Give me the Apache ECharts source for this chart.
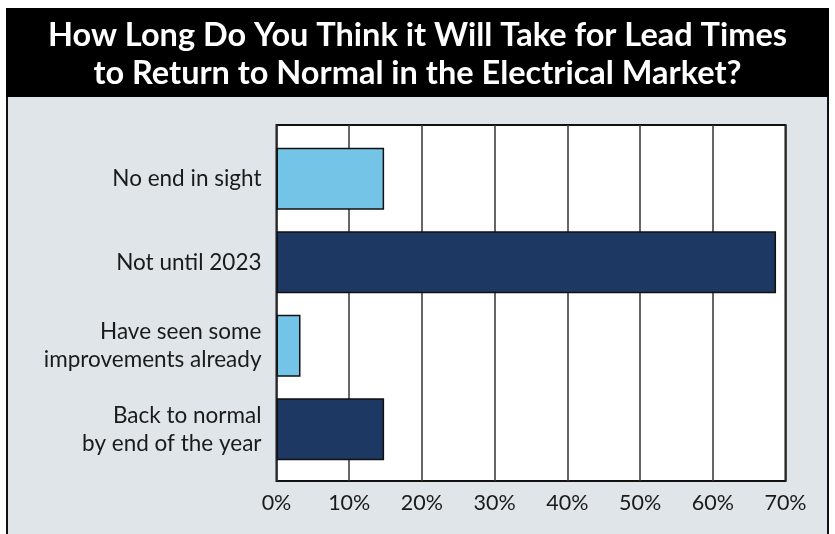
<!DOCTYPE html>
<html>
<head>
<meta charset="utf-8">
<script src="https://cdn.jsdelivr.net/npm/echarts@6/dist/echarts.min.js"></script>
<style>
  html, body { margin: 0; padding: 0; background: #ffffff; }
  #chart { width: 835px; height: 534px; }
</style>
</head>
<body>
<div id="chart"></div>
<script>
// Survey answers, top to bottom
const categories = [
  'No end in sight',
  'Not until 2023',
  'Have seen some\nimprovements already',
  'Back to normal\nby end of the year'
];
// Share of respondents, percent
const shares = [14.8, 68.7, 3.3, 14.8];
const barColors = ['#74c4e8', '#1d3862', '#74c4e8', '#1d3862'];
const tickValues = [0, 10, 20, 30, 40, 50, 60, 70];

const titleLines = [
  'How Long Do You Think it Will Take for Lead Times',
  'to Return to Normal in the Electrical Market?'
];

const FONT = 'Lato';
const chart = echarts.init(document.getElementById('chart'), null, { renderer: 'canvas' });

const plotLeft = 276.5, plotRight = 49.5;

chart.setOption({
  animation: false,
  backgroundColor: '#ffffff',
  graphic: [
    { type: 'rect', z: -10, shape: { x: 7, y: 96, width: 821, height: 440 },
      style: { fill: '#e0e5ea', stroke: '#111', lineWidth: 2 } },
    { type: 'rect', z: -9, shape: { x: 6, y: 8, width: 823, height: 89 },
      style: { fill: '#000000' } },
    { type: 'text', z: 10, left: 'center', top: 17,
      style: { text: titleLines.join('\n'), fill: '#ffffff', font: 'bold 32.5px ' + FONT,
               textAlign: 'center', lineHeight: 38 } }
  ],
  grid: [
    { left: plotLeft, right: plotRight, top: 125, bottom: 53, show: true,
      backgroundColor: '#ffffff', borderColor: '#111', borderWidth: 2, z: 0 },
    { left: plotLeft, right: plotRight, top: 137, bottom: 63 }
  ],
  xAxis: [
    { type: 'value', gridIndex: 0, min: 0, max: 70, interval: 10,
      axisLine: { show: false }, axisTick: { show: false },
      splitLine: { show: true, lineStyle: { color: '#333', width: 1.5 } },
      axisLabel: { formatter: v => tickValues.includes(v) ? v + '%' : '', color: '#1a1a1a',
                   fontFamily: FONT, fontSize: 21.5, margin: 11 } },
    { type: 'value', gridIndex: 1, min: 0, max: 70, interval: 10, show: false }
  ],
  yAxis: [
    { type: 'category', gridIndex: 0, data: categories, show: false },
    { type: 'category', gridIndex: 1, data: categories, inverse: true,
      axisLine: { show: false }, axisTick: { show: false },
      axisLabel: { color: '#1a1a1a', fontFamily: FONT, fontSize: 22.5, lineHeight: 28,
                   margin: 15, align: 'right' } }
  ],
  series: [{
    type: 'bar',
    xAxisIndex: 1, yAxisIndex: 1,
    barWidth: 62,
    z: 5,
    data: shares.map((v, i) => ({
      value: v,
      itemStyle: { color: barColors[i], borderColor: '#111', borderWidth: 1.5 }
    }))
  }]
});
</script>
</body>
</html>
